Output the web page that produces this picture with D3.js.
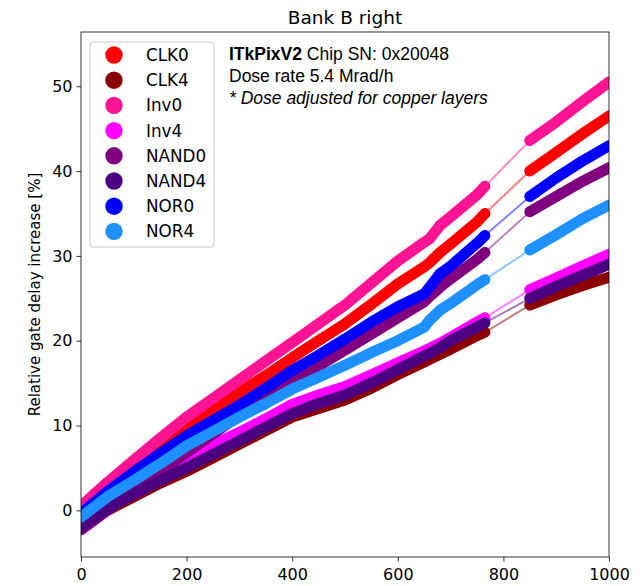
<!DOCTYPE html>
<html>
<head>
<meta charset="utf-8">
<script src="https://cdn.jsdelivr.net/npm/d3@7"></script>
<style>
    body { margin: 0; background: #fff; }
    #chart { width: 643px; height: 586px; }
    .axis text { font-family: 'DejaVu Sans', sans-serif; font-size: 16px; fill: #000; }
    .axis path, .axis line { stroke: #000; stroke-width: 0.8; }
</style>
</head>
<body>
<div id="chart"></div>
<script>

// dose [Mrad] of the read points, first run and second run
var doseRun1 = [0, 50, 100, 150, 200, 250, 300, 350, 400, 450, 500, 550, 600, 650, 660, 680, 700, 750, 765];
var doseRun2 = [850, 900, 950, 1000];

var seriesNames = ['CLK0', 'CLK4', 'Inv0', 'Inv4', 'NAND0', 'NAND4', 'NOR0', 'NOR4'];
var seriesColors = ['#ff0000', '#8b0000', '#ff1493', '#ff00ff', '#800080', '#4b0082', '#0000ff', '#1e90ff'];

// relative gate delay increase [%], run1 then run2
var clk0 = [0.0, 2.6, 5.0, 7.5, 10.0, 12.0, 13.9, 15.9, 18.0, 20.0, 22.0, 24.3, 26.7, 28.7, 29.2, 30.4, 31.4, 34.0, 35.0,
    40.0, 42.2, 44.4, 46.5];
var clk4 = [-1.8, 0.0, 1.6, 3.2, 4.6, 6.2, 7.8, 9.4, 11.0, 12.0, 13.0, 14.4, 16.0, 17.5, 17.8, 18.4, 19.0, 20.6, 21.0,
    24.2, 25.4, 26.5, 27.5];
var inv0 = [0.5, 3.3, 5.9, 8.5, 11.0, 13.2, 15.4, 17.6, 19.8, 22.0, 24.2, 26.8, 29.4, 31.6, 32.0, 33.6, 34.6, 37.2, 38.2,
    43.6, 45.8, 48.2, 50.5];
var inv4 = [-1.5, 0.6, 2.4, 4.2, 6.0, 7.7, 9.2, 10.8, 12.5, 13.6, 14.6, 16.0, 17.4, 18.8, 19.1, 19.7, 20.4, 22.2, 22.7,
    26.0, 27.4, 28.8, 30.2];
var nand0 = [-2.3, 0.0, 2.2, 4.5, 6.8, 9.0, 11.2, 13.3, 15.3, 17.0, 18.9, 20.8, 22.7, 24.6, 25.2, 26.3, 27.3, 29.6, 30.4,
    35.2, 37.0, 38.8, 40.4];
var nand4 = [-2.0, 0.2, 1.9, 3.5, 5.0, 6.6, 8.2, 9.8, 11.4, 12.6, 13.6, 15.0, 16.6, 18.2, 18.5, 19.2, 20.0, 21.6, 22.1,
    25.0, 26.4, 27.7, 29.0];
var nor0 = [-0.4, 2.2, 4.5, 6.7, 8.8, 10.6, 12.4, 14.4, 16.5, 18.3, 20.2, 22.2, 24.0, 25.5, 26.3, 27.9, 28.8, 31.5, 32.4,
    37.0, 39.2, 41.2, 43.0];
var nor4 = [-0.8, 1.6, 3.5, 5.5, 7.6, 9.3, 11.0, 12.6, 14.3, 15.7, 17.1, 18.6, 20.0, 21.6, 22.4, 23.6, 24.4, 26.6, 27.2,
    30.7, 32.5, 34.4, 36.0];

var seriesValues = [clk0, clk4, inv0, inv4, nand0, nand4, nor0, nor4];

var xTicks = [0, 200, 400, 600, 800, 1000];
var yTicks = [0, 10, 20, 30, 40, 50];

var titleText = 'Bank B right';
var yLabelText = 'Relative gate delay increase [%]';


class GateDelayChart {

    constructor() {

        this._margin = { left: 81, top: 32, right: 34, bottom: 29 };
        this._width = 643;
        this._height = 586;
        this._bandWidth = 11;

        var doses = doseRun1.concat(doseRun2);
        this._series = seriesNames.map(function(name, i) {
            return {
                name: name,
                color: seriesColors[i],
                points: doses.map((d, j) => ({ dose: d, value: seriesValues[i][j], run: j < doseRun1.length ? 1 : 2 }))
            };
        });
    }

    renderTo(selector) {

        var innerWidth = this._width - this._margin.left - this._margin.right;
        var innerHeight = this._height - this._margin.top - this._margin.bottom;

        var x = d3.scaleLinear().domain([0, 1000]).range([0, innerWidth]);
        var y = d3.scaleLinear().domain([-5.5, 56.4]).range([innerHeight, 0]);

        var svg = d3.select(selector)
            .append('svg')
            .attr('width', this._width)
            .attr('height', this._height);

        svg.append('defs')
            .append('clipPath')
            .attr('id', 'plot-clip')
            .append('rect')
            .attr('width', innerWidth)
            .attr('height', innerHeight);

        var canvas = svg.append('g')
            .attr('transform', 'translate(' + [this._margin.left, this._margin.top] + ')');

        var line = d3.line().x(d => x(d.dose)).y(d => y(d.value));

        var groups = canvas.append('g')
            .attr('clip-path', 'url(#plot-clip)')
            .selectAll('g.series')
            .data(this._series)
            .enter()
            .append('g')
            .attr('class', 'series');

        // thin connecting line, also bridges the gap between runs
        groups.append('path')
            .attr('d', d => line(d.points))
            .style('fill', 'none')
            .style('stroke', d => d.color)
            .style('stroke-opacity', 0.5)
            .style('stroke-width', 2);

        // dense band of measurements, one per run
        groups.selectAll('path.band')
            .data(d => [1, 2].map(run => ({ color: d.color, points: d.points.filter(p => p.run == run) })))
            .enter()
            .append('path')
            .attr('class', 'band')
            .attr('d', d => line(d.points))
            .style('fill', 'none')
            .style('stroke', d => d.color)
            .style('stroke-width', this._bandWidth)
            .style('stroke-linecap', 'round')
            .style('stroke-linejoin', 'round');

        groups.selectAll('circle')
            .data(d => d.points.map(p => Object.assign({ color: d.color }, p)))
            .enter()
            .append('circle')
            .attr('cx', d => x(d.dose))
            .attr('cy', d => y(d.value))
            .attr('r', 5)
            .style('fill', d => d.color);

        // frame
        canvas.append('rect')
            .attr('width', innerWidth)
            .attr('height', innerHeight)
            .style('fill', 'none')
            .style('stroke', '#000')
            .style('stroke-width', 0.8);

        canvas.append('g')
            .attr('class', 'axis')
            .attr('transform', 'translate(0,' + innerHeight + ')')
            .call(d3.axisBottom(x).tickValues(xTicks).tickFormat(d3.format('d')).tickSize(4.5).tickPadding(7));

        canvas.append('g')
            .attr('class', 'axis')
            .call(d3.axisLeft(y).tickValues(yTicks).tickSize(4.5).tickPadding(4));

        svg.selectAll('.axis .domain').remove();

        svg.append('text')
            .attr('x', this._margin.left + innerWidth / 2)
            .attr('y', 24)
            .attr('text-anchor', 'middle')
            .style('font-family', 'DejaVu Sans, sans-serif')
            .style('font-size', '18.5px')
            .text(titleText);

        svg.append('text')
            .attr('transform', 'translate(40,' + (this._margin.top + innerHeight / 2) + ') rotate(-90)')
            .attr('text-anchor', 'middle')
            .style('font-family', 'DejaVu Sans, sans-serif')
            .style('font-size', '15px')
            .text(yLabelText);

        this._renderLegend(svg);
        this._renderNotes(svg);

        return this;
    }

    _renderLegend(svg) {

        var legend = svg.append('g').attr('transform', 'translate(90,42)');

        legend.append('rect')
            .attr('width', 124)
            .attr('height', 205)
            .attr('rx', 3)
            .style('fill', '#fff')
            .style('fill-opacity', 0.8)
            .style('stroke', '#ccc')
            .style('stroke-width', 1);

        var rows = legend.selectAll('g.row')
            .data(this._series)
            .enter()
            .append('g')
            .attr('class', 'row')
            .attr('transform', (d, i) => 'translate(0,' + (13 + i * 25.2) + ')');

        rows.append('circle')
            .attr('cx', 24)
            .attr('r', 8.7)
            .style('fill', d => d.color);

        rows.append('text')
            .attr('x', 56)
            .attr('dy', '0.36em')
            .style('font-family', 'DejaVu Sans, sans-serif')
            .style('font-size', '16.8px')
            .text(d => d.name);
    }

    _renderNotes(svg) {

        var notes = svg.append('text')
            .style('font-family', 'Liberation Sans, Arial, sans-serif')
            .style('font-size', '17.5px');

        var first = notes.append('tspan').attr('x', 229).attr('y', 60);
        first.append('tspan').style('font-weight', 'bold').text('ITkPixV2');
        first.append('tspan').text(' Chip SN: 0x20048');

        notes.append('tspan').attr('x', 229).attr('y', 82).text('Dose rate 5.4 Mrad/h');
        notes.append('tspan').attr('x', 229).attr('y', 104).style('font-style', 'italic')
            .text('* Dose adjusted for copper layers');
    }
}

new GateDelayChart().renderTo('#chart');

</script>
</body>
</html>
